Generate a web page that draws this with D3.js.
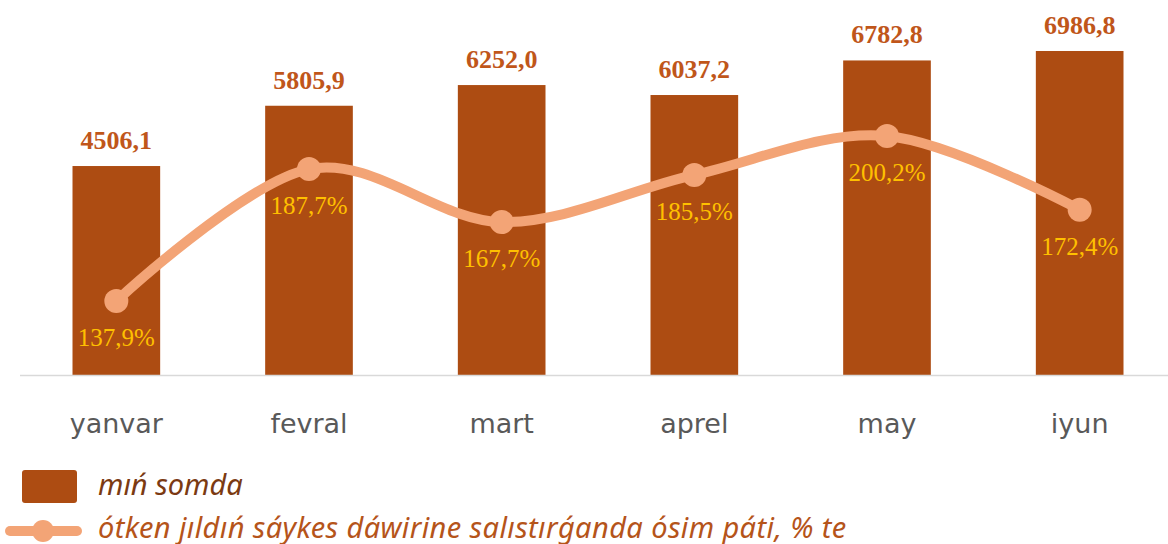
<!doctype html>
<html lang="en">
<head>
  <meta charset="utf-8">
  <style>
    body { margin: 0; background: #fff; }
    svg { display: block; }
  </style>
</head>
<body>
  <script src="https://d3js.org/d3.v7.min.js"></script>
  <div id="chart"></div>
  <script>
    var months = ["yanvar", "fevral", "mart", "aprel", "may", "iyun"];
    var volumes = [4506.1, 5805.9, 6252.0, 6037.2, 6782.8, 6986.8];
    var growth = [137.9, 187.7, 167.7, 185.5, 200.2, 172.4];
    var volumeLabels = ["4506,1", "5805,9", "6252,0", "6037,2", "6782,8", "6986,8"];
    var growthLabels = ["137,9%", "187,7%", "167,7%", "185,5%", "200,2%", "172,4%"];
    var legendNames = ["mıń somda", "ótken jıldıń sáykes dáwirine salıstırǵanda ósim páti, % te"];

    var width = 1168, height = 544;
    var barColor = "#AD4C12";
    var lineColor = "#F3A476";

    var svg = d3.select("#chart").append("svg")
      .attr("width", width)
      .attr("height", height);

    var x = d3.scaleBand()
      .domain(months)
      .range([20, 1176])
      .paddingInner(0.545)
      .paddingOuter(0.2725);

    var y = d3.scaleLinear().domain([0, 8000]).range([375, 4]);
    var y2 = d3.scaleLinear().domain([110, 250]).range([375, 4]);

    // bars
    svg.selectAll("rect.bar").data(volumes)
      .enter().append("rect")
      .attr("class", "bar")
      .attr("x", (d, i) => x(months[i]))
      .attr("y", d => y(d))
      .attr("width", x.bandwidth())
      .attr("height", d => y(0) - y(d))
      .attr("fill", barColor);

    // baseline
    svg.append("line")
      .attr("x1", 20).attr("x2", width)
      .attr("y1", y(0) + 0.5).attr("y2", y(0) + 0.5)
      .attr("stroke", "#d9d9d9")
      .attr("stroke-width", 1.5);

    // bar value labels
    svg.selectAll("text.vol").data(volumes)
      .enter().append("text")
      .attr("class", "vol")
      .attr("x", (d, i) => x(months[i]) + x.bandwidth() / 2)
      .attr("y", d => y(d) - 17)
      .attr("text-anchor", "middle")
      .style("font-family", "'Liberation Serif', serif")
      .style("font-weight", "bold")
      .style("font-size", "26px")
      .style("fill", "#C0561A")
      .text((d, i) => volumeLabels[i]);

    // category labels
    svg.selectAll("text.cat").data(months)
      .enter().append("text")
      .attr("class", "cat")
      .attr("x", d => x(d) + x.bandwidth() / 2)
      .attr("y", 433)
      .attr("text-anchor", "middle")
      .style("font-family", "'DejaVu Sans', sans-serif")
      .style("font-size", "27px")
      .style("fill", "#595959")
      .text(d => d);

    // growth line
    var cx = (d, i) => x(months[i]) + x.bandwidth() / 2;
    var line = d3.line()
      .x(cx)
      .y(d => y2(d))
      .curve(d3.curveCardinal.tension(0));

    svg.append("path")
      .datum(growth)
      .attr("d", line)
      .attr("fill", "none")
      .attr("stroke", lineColor)
      .attr("stroke-width", 10)
      .attr("stroke-linecap", "round");

    svg.selectAll("circle.pt").data(growth)
      .enter().append("circle")
      .attr("class", "pt")
      .attr("cx", cx)
      .attr("cy", d => y2(d))
      .attr("r", 12)
      .attr("fill", lineColor);

    svg.selectAll("text.gr").data(growth)
      .enter().append("text")
      .attr("class", "gr")
      .attr("x", cx)
      .attr("y", d => y2(d) + 45)
      .attr("text-anchor", "middle")
      .style("font-family", "'Liberation Serif', serif")
      .style("font-size", "25px")
      .style("fill", "#FFC000")
      .text((d, i) => growthLabels[i]);

    // legend
    var legend = svg.append("g");
    legend.append("rect")
      .attr("x", 22).attr("y", 470)
      .attr("width", 55).attr("height", 33)
      .attr("rx", 3)
      .attr("fill", barColor);
    legend.append("text")
      .attr("x", 98).attr("y", 495)
      .style("font-family", "'Noto Sans', sans-serif")
      .style("font-style", "italic")
      .style("font-size", "29px")
      .style("fill", "#7B3A12")
      .text(legendNames[0]);

    legend.append("line")
      .attr("x1", 10).attr("x2", 77)
      .attr("y1", 531).attr("y2", 531)
      .attr("stroke", lineColor)
      .attr("stroke-width", 10)
      .attr("stroke-linecap", "round");
    legend.append("circle")
      .attr("cx", 43).attr("cy", 531)
      .attr("r", 11)
      .attr("fill", lineColor);
    legend.append("text")
      .attr("x", 98).attr("y", 538)
      .style("font-family", "'Noto Sans', sans-serif")
      .style("font-style", "italic")
      .style("font-size", "29px")
      .style("letter-spacing", "0.4px")
      .style("fill", "#B5541A")
      .text(legendNames[1]);
  </script>
</body>
</html>
